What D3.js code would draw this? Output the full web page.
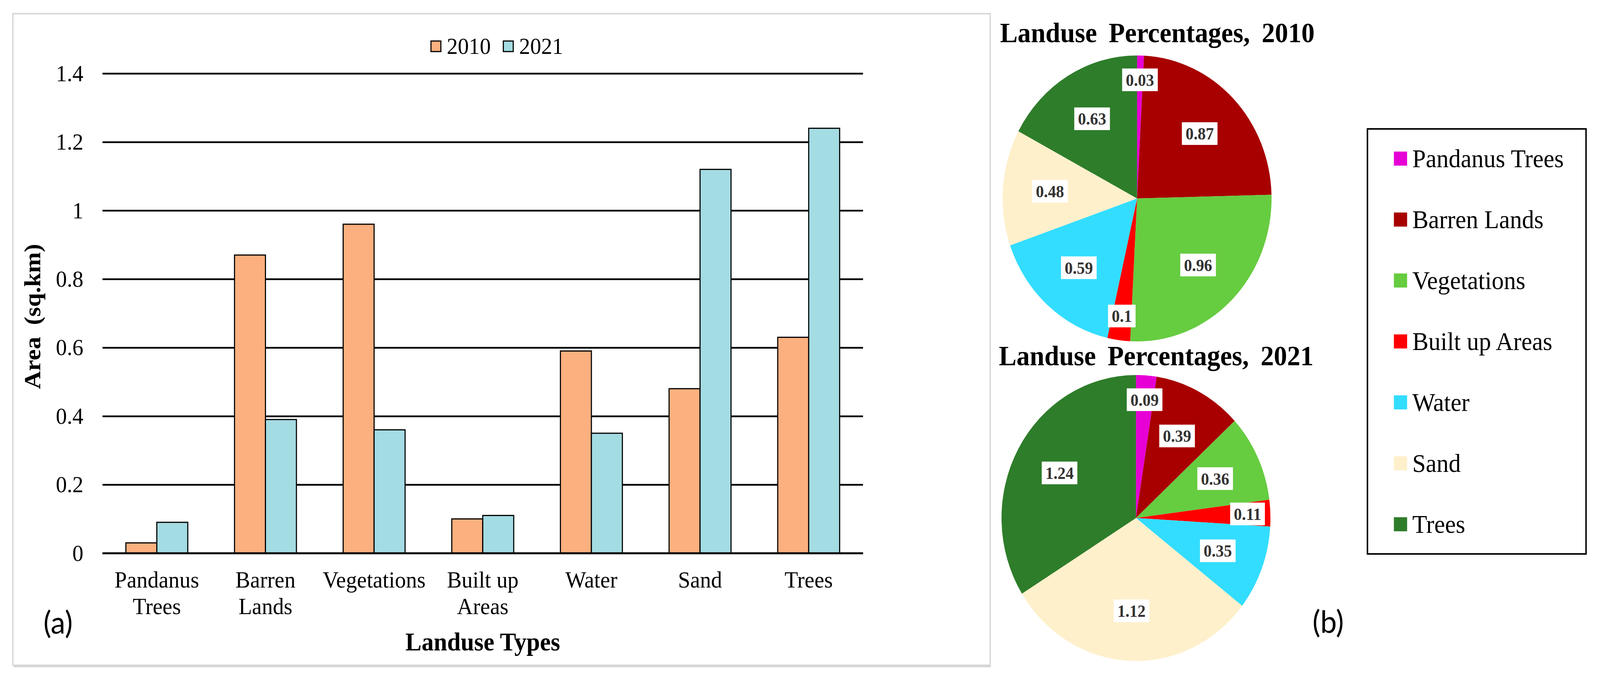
<!DOCTYPE html>
<html>
<head>
<meta charset="utf-8">
<script src="https://cdn.jsdelivr.net/npm/d3@7"></script>
<style>
  body { margin: 0; background: #fff; overflow: hidden; }
  text { font-family: "Liberation Serif", "Times New Roman", serif; fill: #000; }
</style>
</head>
<body>
<svg id="fig"></svg>
<script>
// data
var categories = ["Pandanus Trees", "Barren Lands", "Vegetations", "Built up Areas", "Water", "Sand", "Trees"];
var categoryLines = [["Pandanus", "Trees"], ["Barren", "Lands"], ["Vegetations"], ["Built up", "Areas"], ["Water"], ["Sand"], ["Trees"]];
var years = ["2010", "2021"];
var area2010 = [0.03, 0.87, 0.96, 0.1, 0.59, 0.48, 0.63];
var area2021 = [0.09, 0.39, 0.36, 0.11, 0.35, 1.12, 1.24];
var yTicks = [0, 0.2, 0.4, 0.6, 0.8, 1, 1.2, 1.4];

var barColors = ["#FCB07F", "#A4DCE3"];
var pieColors = ["#E600D6", "#A80000", "#66CC40", "#FF0000", "#33DDFF", "#FFF0CC", "#2E7D2A"];

// the figure is laid out on a 4355 x 1733 canvas and fitted to the window
var svg = d3.select("#fig")
    .attr("width", window.innerWidth || 4355)
    .attr("height", window.innerHeight || 1733)
    .attr("viewBox", "0 0 4355 1733")
    .attr("preserveAspectRatio", "none");

// ---------- (a) bar chart ----------
var margin = {top: 188, left: 279},
    width = 2070,
    height = 1228;

// panel frame, with the slightly heavier bottom edge of the original
svg.append("line")
    .attr("x1", 37).attr("x2", 2697)
    .attr("y1", 1705).attr("y2", 1705)
    .attr("stroke", "#d4d4d4")
    .attr("stroke-width", 6);
svg.append("rect")
    .attr("x", 35).attr("y", 35)
    .attr("width", 2660).attr("height", 1668)
    .attr("fill", "none")
    .attr("stroke", "#d9d9d9")
    .attr("stroke-width", 4);

var g = svg.append("g").attr("transform", "translate(" + margin.left + "," + margin.top + ")");

var x0 = d3.scaleBand().domain(categories).range([0, width]).paddingInner(0.43).paddingOuter(0.215);
var x1 = d3.scaleBand().domain(years).range([0, x0.bandwidth()]);
var y = d3.scaleLinear().domain([0, 1.4]).range([height, 0]);
var barColor = d3.scaleOrdinal().domain(years).range(barColors);

var yAxis = g.append("g")
    .attr("class", "axis axis--y")
    .call(d3.axisLeft(y).tickValues(yTicks).tickSize(-width).tickPadding(52).tickFormat(d3.format("~g")));
yAxis.select(".domain").remove();
yAxis.selectAll("line").attr("stroke", "#000").attr("stroke-width", 4.5);
yAxis.selectAll("text").attr("font-size", 60);

var rows = categories.map(function(c, i) {
    return {cat: c, values: [{year: years[0], v: area2010[i]}, {year: years[1], v: area2021[i]}]};
});

g.append("g").selectAll("g")
    .data(rows)
    .join("g")
    .attr("transform", function(d) { return "translate(" + x0(d.cat) + ",0)"; })
    .selectAll("rect")
    .data(function(d) { return d.values; })
    .join("rect")
    .attr("x", function(d) { return x1(d.year); })
    .attr("y", function(d) { return y(d.v); })
    .attr("width", x1.bandwidth())
    .attr("height", function(d) { return height - y(d.v); })
    .attr("fill", function(d) { return barColor(d.year); })
    .attr("stroke", "#000")
    .attr("stroke-width", 3);

// base line over the bars
g.append("line")
    .attr("x1", 0).attr("x2", width)
    .attr("y1", y(0)).attr("y2", y(0))
    .attr("stroke", "#000").attr("stroke-width", 4.5);

var xAxis = g.append("g")
    .attr("class", "axis axis--x")
    .attr("transform", "translate(0," + height + ")")
    .call(d3.axisBottom(x0).tickSize(0).tickPadding(0));
xAxis.select(".domain").remove();
xAxis.selectAll("text").each(function(d, i) {
    var t = d3.select(this).text(null).attr("y", 0).attr("dy", null).attr("font-size", 60);
    categoryLines[i].forEach(function(line, k) {
        t.append("tspan").attr("x", 0).attr("y", 88 + k * 68).text(line);
    });
});

g.append("text")
    .attr("x", width / 2)
    .attr("y", 1477)
    .attr("text-anchor", "middle")
    .attr("font-size", 66)
    .attr("font-weight", "bold")
    .text("Landuse Types");

g.append("text")
    .attr("transform", "translate(-170," + (height / 2 + 8) + ") rotate(-90)")
    .attr("text-anchor", "middle")
    .attr("font-size", 64)
    .attr("font-weight", "bold")
    .attr("word-spacing", 14)
    .text("Area (sq.km)");

// legend on top
var legend = svg.append("g").attr("transform", "translate(1173,105)")
    .selectAll("g")
    .data(years)
    .join("g")
    .attr("transform", function(d, i) { return "translate(" + (i * 197) + ",0)"; });
legend.append("rect")
    .attr("width", 27).attr("height", 27)
    .attr("fill", function(d) { return barColor(d); })
    .attr("stroke", "#000").attr("stroke-width", 3);
legend.append("text")
    .attr("x", 43).attr("y", 33)
    .attr("font-size", 60)
    .text(function(d) { return d; });

svg.append("text")
    .attr("x", 158).attr("y", 1622)
    .attr("text-anchor", "middle")
    .attr("font-size", 80)
    .style("font-family", "Lato, 'Open Sans', sans-serif")
    .text("(a)");

// ---------- (b) pies ----------
var R = 366;
var pie = d3.pie().sort(null).value(function(d) { return d; });
var arc = d3.arc().innerRadius(0).outerRadius(R);
var pieColor = d3.scaleOrdinal().domain(categories).range(pieColors);

function drawPie(values, cx, cy, title, titleY) {
    svg.append("text")
        .attr("x", cx + 55).attr("y", titleY)
        .attr("text-anchor", "middle")
        .attr("font-size", 72)
        .attr("font-weight", "bold")
        .attr("word-spacing", 14)
        .text(title);

    var pg = svg.append("g").attr("transform", "translate(" + cx + "," + cy + ")");
    var arcs = pie(values);
    pg.selectAll("path")
        .data(arcs)
        .join("path")
        .attr("d", arc)
        .attr("fill", function(d, i) { return pieColor(categories[i]); });

    var lab = pg.selectAll("g.lab")
        .data(arcs)
        .join("g")
        .attr("class", "lab")
        .attr("transform", function(d) {
            var share = (d.endAngle - d.startAngle) / (2 * Math.PI),
                r = share < 0.04 ? 0.83 * R : 0.65 * R,
                a = (d.startAngle + d.endAngle) / 2;
            return "translate(" + (Math.sin(a) * r) + "," + (-Math.cos(a) * r) + ")";
        });
    lab.append("rect").attr("fill", "#fff");
    lab.append("text")
        .attr("text-anchor", "middle")
        .attr("dy", "0.35em")
        .attr("font-size", 44)
        .attr("font-weight", "bold")
        .style("fill", "#333")
        .text(function(d) { return d3.format("~g")(d.data); });
    lab.each(function() {
        var w = d3.select(this).select("text").node().getComputedTextLength() + 20;
        d3.select(this).select("rect")
            .attr("x", -w / 2).attr("y", -29)
            .attr("width", w).attr("height", 58);
    });
}

drawPie(area2010, 3095, 508, "Landuse Percentages, 2010", 108);
drawPie(area2021, 3092, 1326, "Landuse Percentages, 2021", 935);

// pie legend
svg.append("rect")
    .attr("x", 3722).attr("y", 330)
    .attr("width", 595).attr("height", 1088)
    .attr("fill", "none")
    .attr("stroke", "#000")
    .attr("stroke-width", 4);

var pl = svg.append("g").attr("transform", "translate(3794,406)")
    .selectAll("g")
    .data(categories)
    .join("g")
    .attr("transform", function(d, i) { return "translate(0," + (i * 156) + ")"; });
pl.append("rect")
    .attr("y", -18).attr("width", 36).attr("height", 36)
    .attr("fill", function(d) { return pieColor(d); });
pl.append("text")
    .attr("x", 50).attr("y", 22)
    .attr("font-size", 66)
    .text(function(d) { return d; });

svg.append("text")
    .attr("x", 3615).attr("y", 1620)
    .attr("text-anchor", "middle")
    .attr("font-size", 80)
    .style("font-family", "Lato, 'Open Sans', sans-serif")
    .text("(b)");
</script>
</body>
</html>
